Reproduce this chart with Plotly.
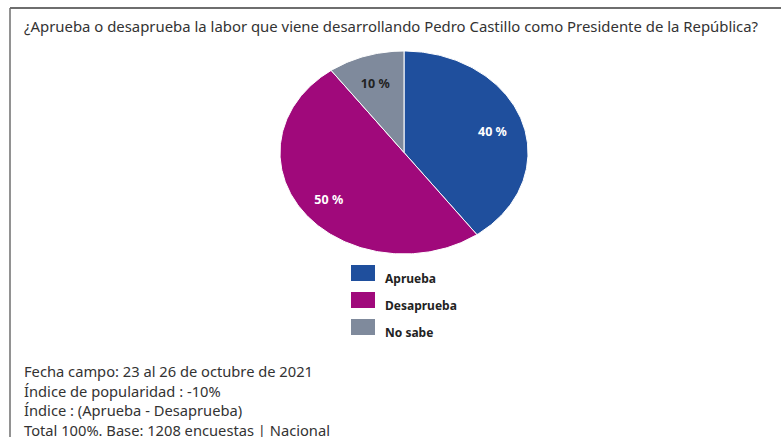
import numpy as np
import plotly.graph_objects as go

# Survey answers and shares (%)
categories = ["Aprueba", "Desaprueba", "No sabe"]
values = [40, 50, 10]
colors = ["#1F4F9D", "#A0097B", "#7F8A9C"]
label_colors = ["#FFFFFF", "#FFFFFF", "#222222"]

question = "¿Aprueba o desaprueba la labor que viene desarrollando Pedro Castillo como Presidente de la República?"
notes = [
    "Fecha campo: 23 al 26 de octubre de 2021",
    "Índice de popularidad : -10%",
    "Índice : (Aprueba - Desaprueba)",
    "Total 100%. Base: 1208 encuestas | Nacional",
]

W, H = 781, 437
FONT = "Noto Sans, Open Sans, sans-serif"

fig = go.Figure()

# Pie wedges drawn clockwise from 12 o'clock on a unit circle;
# the axes' unequal scaling gives the elliptical look.
total = float(sum(values))
start = 0.0
label_x, label_y, label_txt = [], [], []
for cat, val, col in zip(categories, values, colors):
    sweep = 2 * np.pi * val / total
    t = np.linspace(start, start + sweep, max(int(val * 4), 20))
    xs = np.concatenate([[0], np.sin(t), [0]])
    ys = np.concatenate([[0], np.cos(t), [0]])
    fig.add_trace(go.Scatter(
        x=xs, y=ys, mode="lines", fill="toself", fillcolor=col,
        line=dict(color="white", width=1), name=cat, hoverinfo="name",
        showlegend=False,
    ))
    mid = start + sweep / 2
    label_x.append(0.75 * np.sin(mid))
    label_y.append(0.74 * np.cos(mid) - 0.04)
    label_txt.append(f"<b>{val} %</b>")
    start += sweep

fig.add_trace(go.Scatter(
    x=label_x, y=label_y, mode="text", text=label_txt,
    textfont=dict(family=FONT, size=12.5, color=label_colors),
    hoverinfo="skip", showlegend=False,
))

fig.update_xaxes(range=[-1.0, 1.0], visible=False, fixedrange=True,
                 domain=[280 / W, 528 / W])
fig.update_yaxes(range=[-1.0, 1.0], visible=False, fixedrange=True,
                 domain=[1 - 254 / H, 1 - 51 / H])

shapes = [
    # frame: top and left rules
    dict(type="line", xref="paper", yref="paper", x0=10 / W, x1=1, y0=1 - 8 / H, y1=1 - 8 / H,
         line=dict(color="#6E6E6E", width=2)),
    dict(type="line", xref="paper", yref="paper", x0=10 / W, x1=10 / W, y0=0, y1=1 - 8 / H,
         line=dict(color="#6E6E6E", width=1.5)),
]
annotations = [
    dict(text=question, xref="paper", yref="paper", x=22 / W, y=1 - 26 / H,
         xanchor="left", yanchor="middle", showarrow=False,
         font=dict(family=FONT, size=14.9, color="#333333")),
]

# Legend: colour swatches with bold labels
for i, (cat, col) in enumerate(zip(categories, colors)):
    top = 265 + i * 27
    shapes.append(dict(type="rect", xref="paper", yref="paper",
                       x0=351 / W, x1=375 / W, y0=1 - (top + 16) / H, y1=1 - top / H,
                       fillcolor=col, line=dict(width=0)))
    annotations.append(dict(text=f"<b>{cat}</b>", xref="paper", yref="paper",
                            x=383 / W, y=1 - (top + 13) / H, xanchor="left", yanchor="middle",
                            showarrow=False, font=dict(family=FONT, size=12, color="#222222")))

for i, line in enumerate(notes):
    annotations.append(dict(text=line, xref="paper", yref="paper",
                            x=22 / W, y=1 - (371 + i * 19.6) / H, xanchor="left", yanchor="middle",
                            showarrow=False, font=dict(family=FONT, size=14.7, color="#333333")))

fig.update_layout(
    width=W, height=H, margin=dict(l=0, r=0, t=0, b=0),
    paper_bgcolor="white", plot_bgcolor="white",
    shapes=shapes, annotations=annotations, showlegend=False,
)

fig.write_html("out.html")
